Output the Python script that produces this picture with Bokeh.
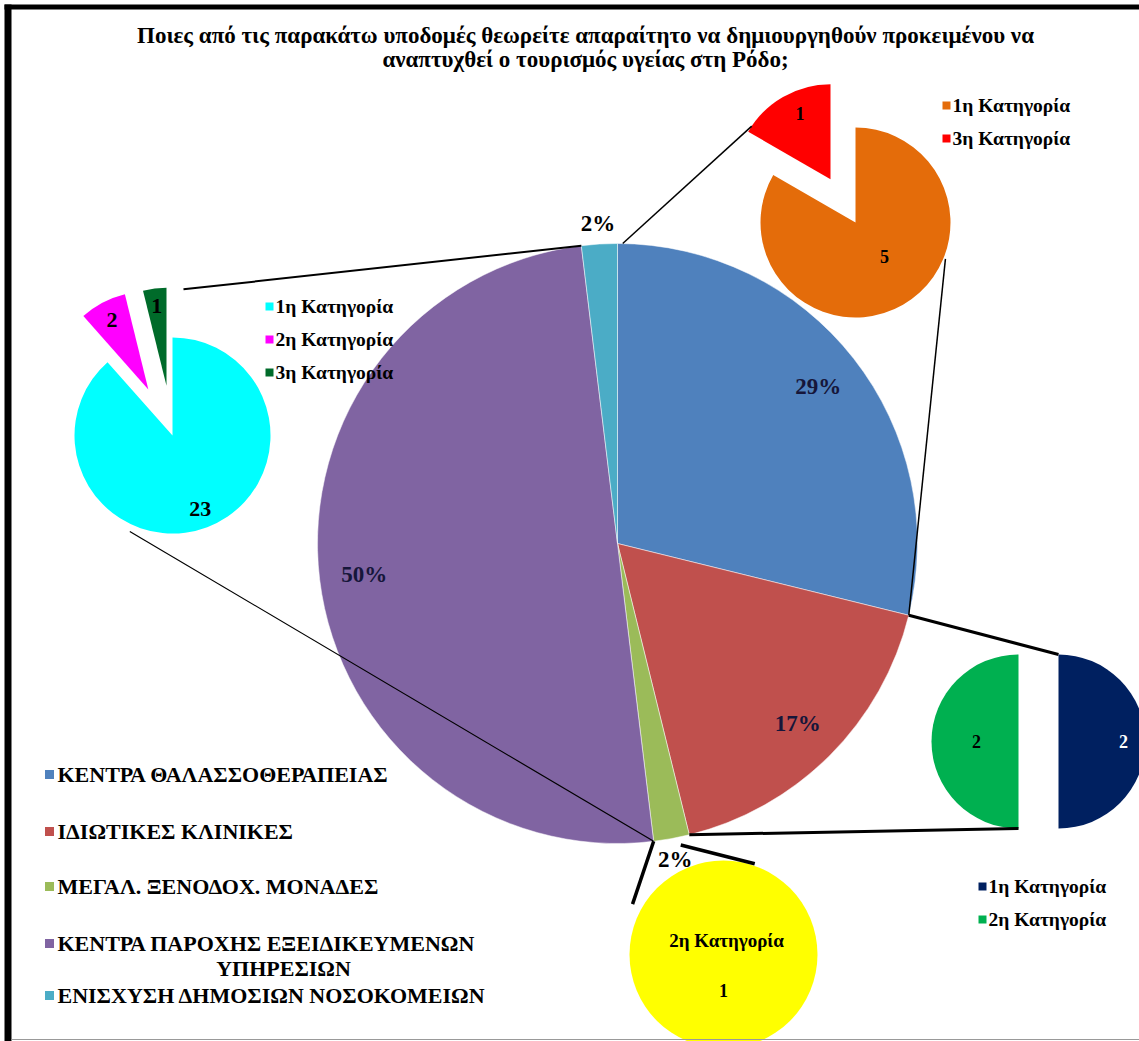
import math
from bokeh.plotting import figure
from bokeh.models import Range1d
from bokeh.embed import file_html
from bokeh.resources import INLINE
from bokeh.core.properties import value

# ---------------- data ----------------
title_lines = [
    "Ποιες από τις παρακάτω υποδομές θεωρείτε απαραίτητο να δημιουργηθούν προκειμένου να",
    "αναπτυχθεί ο τουρισμός υγείας στη Ρόδο;",
]

main_categories = [
    "ΚΕΝΤΡΑ ΘΑΛΑΣΣΟΘΕΡΑΠΕΙΑΣ",
    "ΙΔΙΩΤΙΚΕΣ ΚΛΙΝΙΚΕΣ",
    "ΜΕΓΑΛ. ΞΕΝΟΔΟΧ. ΜΟΝΑΔΕΣ",
    "ΚΕΝΤΡΑ ΠΑΡΟΧΗΣ ΕΞΕΙΔΙΚΕΥΜΕΝΩΝ ΥΠΗΡΕΣΙΩΝ",
    "ΕΝΙΣΧΥΣΗ ΔΗΜΟΣΙΩΝ ΝΟΣΟΚΟΜΕΙΩΝ",
]
main_counts = [15, 9, 1, 26, 1]

thalasso_cats = ["1η Κατηγορία", "3η Κατηγορία"]
thalasso_vals = [5, 1]

specialized_cats = ["1η Κατηγορία", "2η Κατηγορία", "3η Κατηγορία"]
specialized_vals = [23, 2, 1]

clinics_cats = ["1η Κατηγορία", "2η Κατηγορία"]
clinics_vals = [2, 2]

hotels_cats = ["2η Κατηγορία"]
hotels_vals = [1]

# ---------------- styles ----------------
W, H = 1139, 1041
FONT = value("Liberation Serif")
main_colors = ["#4F81BD", "#C0504D", "#9BBB59", "#8064A2", "#4BACC6"]
thalasso_colors = ["#E46C0A", "#FF0000"]
specialized_colors = ["#00FFFF", "#FF00FF", "#006B2A"]
clinics_colors = ["#002060", "#00B050"]
hotels_colors = ["#FFFF00"]

p = figure(width=W, height=H, x_range=Range1d(0, W), y_range=Range1d(0, H),
           output_backend="svg", toolbar_location=None, min_border=0)
p.xaxis.visible = False
p.yaxis.visible = False
p.grid.visible = False
p.outline_line_color = None
p.background_fill_color = "white"
p.border_fill_color = "white"


def polar(cx, cy, r, th):
    """pixel coords, theta clockwise from north (deg)"""
    t = math.radians(th)
    return cx + r * math.sin(t), cy - r * math.cos(t)


def draw_pie(cx, cy, r, vals, colors, explode, line_color=None, line_width=0):
    total = float(sum(vals))
    a = 0.0
    slices = []
    for v, c, e in zip(vals, colors, explode):
        th1 = a
        th2 = a + 360.0 * v / total
        mid = (th1 + th2) / 2
        ox, oy = polar(cx, cy, e, mid)
        if v == total:
            p.ellipse(x=[ox], y=[H - oy], width=2 * r, height=2 * r,
                      fill_color=c, line_color=line_color, line_width=line_width)
        else:
            p.wedge(x=[ox], y=[H - oy], radius=r,
                    start_angle=math.radians(90 - th2), end_angle=math.radians(90 - th1),
                    fill_color=c, line_color=line_color, line_width=line_width)
        slices.append(dict(cx=ox, cy=oy, th1=th1, th2=th2, mid=mid, r=r, v=v, total=total))
        a = th2
    return slices


def label(x, y, txt, size, color="black", align="center"):
    p.text(x=[x], y=[H - y], text=[txt], text_font=FONT, text_font_style="bold",
           text_font_size=size, text_color=color, text_align=align, text_baseline="middle")


def connector(a, b, width):
    p.line(x=[a[0], b[0]], y=[H - a[1], H - b[1]], line_color="black", line_width=width)


# ---------------- main pie ----------------
MCX, MCY, MR = 617, 543, 300
main = draw_pie(MCX, MCY, MR, main_counts, main_colors, [0] * 5,
                line_color="white", line_width=0.5)
tot = sum(main_counts)
for s in main:
    pct = "%d%%" % round(100.0 * s["v"] / tot)
    frac = 0.85 if s["v"] / tot > 0.05 else 1.07
    lx, ly = polar(MCX, MCY, MR * frac, s["mid"])
    label(lx, ly, pct, "23px", color="#16163a" if frac < 1 else "black")

# ---------------- small pies ----------------
# thalassotherapy breakdown (top right)
th = draw_pie(855, 222, 95, thalasso_vals, thalasso_colors, [0, 50])
label(*polar(th[0]["cx"], th[0]["cy"], 45, 140), str(thalasso_vals[0]), "18px")
label(*polar(th[1]["cx"], th[1]["cy"], 72, 335), str(thalasso_vals[1]), "18px")

# specialized services breakdown (left)
sp = draw_pie(172, 435, 98, specialized_vals, specialized_colors, [0, 52, 50])
for s, frac in zip(sp, [0.8, 0.8, 0.82]):
    label(*polar(s["cx"], s["cy"], s["r"] * frac, s["mid"]), str(s["v"]), "22px")

# clinics breakdown (right)
cl = draw_pie(1038, 741, 87, clinics_vals, clinics_colors, [20, 20])
label(*polar(cl[0]["cx"], cl[0]["cy"], 65, cl[0]["mid"]), str(clinics_vals[0]), "18px", color="white")
label(*polar(cl[1]["cx"], cl[1]["cy"], 42, cl[1]["mid"]), str(clinics_vals[1]), "18px")

# hotels breakdown (bottom)
ho = draw_pie(723, 954, 94, hotels_vals, hotels_colors, [0])
label(726, 940, hotels_cats[0], "19px")
label(723, 990, str(hotels_vals[0]), "18px")

# ---------------- connectors ----------------
b = [s["th1"] for s in main] + [360.0]
connector(polar(MCX, MCY, MR, b[0] + 1), polar(th[1]["cx"], th[1]["cy"], 95, 304), 1.5)
connector(polar(MCX, MCY, MR, b[1]), polar(855, 222, 97, 112), 1.5)
connector(polar(MCX, MCY, MR, b[1]), polar(cl[0]["cx"], cl[0]["cy"], 87, 0), 3)
connector(polar(MCX, MCY, MR, b[2]), polar(cl[1]["cx"], cl[1]["cy"], 87, 180), 3)
connector(polar(MCX, MCY, MR + 8, b[2] + 2), polar(723, 954, 96, 19), 3.5)
connector(polar(MCX, MCY, MR, b[3]), polar(723, 954, 104, 299), 3.5)
connector(polar(MCX, MCY, MR, b[3]), polar(172, 435, 105, 204), 1.2)
connector(polar(MCX, MCY, MR, b[4]), polar(sp[2]["cx"], sp[2]["cy"], 98, 10), 2)

# ---------------- legends ----------------
legend_rows = [774, 831, 886, 943, 995]
for cat, col, y in zip(main_categories, main_colors, legend_rows):
    p.scatter(x=[49], y=[H - y], marker="square", size=9, fill_color=col, line_color=None)
    if cat.startswith("ΚΕΝΤΡΑ ΠΑΡΟΧΗΣ"):
        first, second = cat.rsplit(" ", 1)
        label(57, y, first, "22px", align="left")
        label(283, y + 25, second, "22px")
    else:
        label(57, y, cat, "22px", align="left")


def small_legend(x, y0, cats, colors, step):
    for i, (cat, col) in enumerate(zip(cats, colors)):
        y = y0 + i * step
        p.scatter(x=[x], y=[H - y], marker="square", size=8, fill_color=col, line_color=None)
        label(x + 6, y, cat, "19.5px", align="left")


small_legend(946, 105, thalasso_cats, thalasso_colors, 33)
small_legend(269, 306, specialized_cats, specialized_colors, 33)
small_legend(982, 886, clinics_cats, clinics_colors, 33)

# ---------------- title ----------------
label(585, 35, title_lines[0], "23px")
label(585, 59, title_lines[1], "23px")

# ---------------- frame ----------------
p.quad(left=[4], right=[W], bottom=[H - 9], top=[H - 4], fill_color="black", line_color=None)
p.quad(left=[4], right=[11], bottom=[0], top=[H - 4], fill_color="black", line_color=None)
p.line(x=[11, W], y=[H - 1039, H - 1039], line_color="#999999", line_width=1)

open("out.html", "w").write(file_html(p, INLINE))
